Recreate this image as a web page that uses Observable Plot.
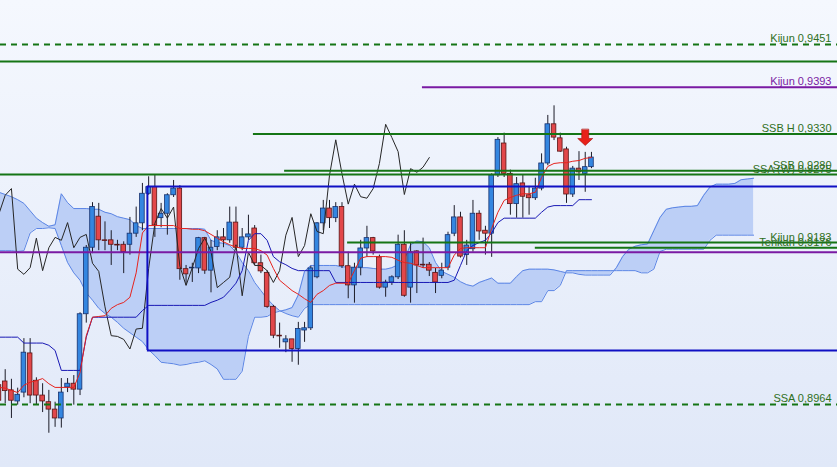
<!DOCTYPE html>
<html><head><meta charset="utf-8">
<script src="https://cdn.jsdelivr.net/npm/d3@7"></script>
<script src="https://cdn.jsdelivr.net/npm/@observablehq/plot@0.6"></script>
<style>html,body{margin:0;padding:0;background:#fff;} #chart svg{display:block}</style>
</head><body><div id="chart"></div>
<script>
// ---- candle data (index -1 .. 94) ----
const firstIndex = -1;
const opens = [
 0.8990,0.8995,0.8983,0.8968,0.8980,0.9033,0.8996,0.8976,0.8967,0.8957,
 0.8945,0.8987,0.8992,0.8984,0.9086,0.9176,0.9218,0.9186,0.9186,0.9180,
 0.9180,0.9180,0.9195,0.9209,0.9249,0.9258,0.9216,0.9222,0.9247,0.9256,
 0.9147,0.9148,0.9148,0.9189,0.9145,0.9177,0.9190,0.9186,0.9210,0.9176,
 0.9190,0.9202,0.9155,0.9142,0.9096,0.9057,0.9048,0.9052,0.9039,0.9064,
 0.9067,0.9136,0.9209,0.9229,0.9216,0.9231,0.9151,0.9125,0.9149,0.9175,
 0.9189,0.9163,0.9122,0.9129,0.9136,0.9180,0.9122,0.9171,0.9153,0.9153,
 0.9142,0.9138,0.9149,0.9195,0.9217,0.9166,0.9174,0.9222,0.9199,0.9195,
 0.9274,0.9317,0.9276,0.9235,0.9263,0.9247,0.9243,0.9256,0.9290,0.9343,
 0.9324,0.9309,0.9248,0.9283,0.9276,0.9285];
const closes = [
 0.8969,0.8982,0.8969,0.8977,0.9034,0.8976,0.8976,0.8968,0.8957,0.8945,
 0.8980,0.8992,0.8984,0.9086,0.9176,0.9231,0.9186,0.9185,0.9180,0.9179,
 0.9170,0.9195,0.9209,0.9249,0.9258,0.9206,0.9222,0.9247,0.9256,0.9147,
 0.9140,0.9149,0.9189,0.9145,0.9176,0.9190,0.9186,0.9210,0.9176,0.9190,
 0.9194,0.9155,0.9144,0.9096,0.9057,0.9056,0.9052,0.9039,0.9066,0.9067,
 0.9148,0.9209,0.9229,0.9216,0.9231,0.9151,0.9125,0.9149,0.9175,0.9189,
 0.9171,0.9122,0.9129,0.9136,0.9180,0.9111,0.9170,0.9152,0.9152,0.9145,
 0.9129,0.9145,0.9193,0.9217,0.9164,0.9179,0.9222,0.9198,0.9195,0.9274,
 0.9322,0.9276,0.9235,0.9262,0.9245,0.9243,0.9256,0.9290,0.9343,0.9325,
 0.9306,0.9248,0.9283,0.9278,0.9285,0.9298];
const highs = [
 0.9010,0.9011,0.8998,0.8986,0.9053,0.9053,0.9000,0.8992,0.8983,0.8967,
 0.8999,0.8999,0.9003,0.9088,0.9179,0.9237,0.9236,0.9211,0.9199,0.9186,
 0.9184,0.9217,0.9231,0.9263,0.9272,0.9274,0.9236,0.9249,0.9267,0.9260,
 0.9152,0.9155,0.9190,0.9190,0.9186,0.9199,0.9202,0.9231,0.9231,0.9202,
 0.9220,0.9206,0.9166,0.9145,0.9098,0.9074,0.9057,0.9052,0.9075,0.9075,
 0.9151,0.9210,0.9240,0.9240,0.9237,0.9237,0.9170,0.9155,0.9186,0.9205,
 0.9190,0.9166,0.9132,0.9138,0.9193,0.9199,0.9182,0.9172,0.9189,0.9156,
 0.9148,0.9155,0.9197,0.9233,0.9224,0.9186,0.9240,0.9226,0.9205,0.9276,
 0.9325,0.9331,0.9281,0.9271,0.9274,0.9259,0.9270,0.9303,0.9355,0.9368,
 0.9331,0.9312,0.9286,0.9306,0.9305,0.9305];
const lows = [
 0.8956,0.8965,0.8945,0.8963,0.8973,0.8965,0.8963,0.8953,0.8925,0.8933,
 0.8932,0.8980,0.8963,0.8976,0.9074,0.9168,0.9172,0.9172,0.9152,0.9172,
 0.9141,0.9166,0.9190,0.9199,0.9247,0.9190,0.9203,0.9193,0.9244,0.9132,
 0.9125,0.9129,0.9141,0.9140,0.9115,0.9172,0.9176,0.9182,0.9172,0.9172,
 0.9186,0.9152,0.9141,0.9094,0.9053,0.9040,0.9034,0.9021,0.9017,0.9048,
 0.9064,0.9134,0.9199,0.9202,0.9210,0.9148,0.9107,0.9101,0.9138,0.9163,
 0.9166,0.9120,0.9109,0.9125,0.9133,0.9109,0.9101,0.9114,0.9148,0.9137,
 0.9114,0.9134,0.9145,0.9191,0.9162,0.9152,0.9170,0.9186,0.9166,0.9163,
 0.9271,0.9271,0.9220,0.9216,0.9216,0.9220,0.9240,0.9253,0.9287,0.9321,
 0.9305,0.9236,0.9244,0.9267,0.9251,0.9283];
// ---- Ichimoku lines ----
const tenkan = [
 0.8987,0.8986,0.8983,0.8980,0.8990,0.8994,0.8996,0.8999,0.8992,0.8987,
 0.8987,0.8987,0.8987,0.9007,0.9057,0.9082,0.9083,0.9084,0.9094,0.9099,
 0.9102,0.9109,0.9142,0.9196,0.9206,0.9206,0.9206,0.9206,0.9206,0.9202,
 0.9202,0.9201,0.9201,0.9199,0.9194,0.9189,0.9184,0.9180,0.9177,0.9175,
 0.9175,0.9175,0.9172,0.9166,0.9148,0.9132,0.9125,0.9118,0.9113,0.9107,
 0.9102,0.9113,0.9118,0.9125,0.9128,0.9128,0.9128,0.9145,0.9162,0.9164,
 0.9164,0.9164,0.9164,0.9163,0.9159,0.9156,0.9155,0.9152,0.9149,0.9149,
 0.9149,0.9149,0.9149,0.9166,0.9175,0.9176,0.9176,0.9176,0.9176,0.9202,
 0.9224,0.9240,0.9244,0.9247,0.9249,0.9249,0.9251,0.9271,0.9286,0.9290,
 0.9291,0.9291,0.9293,0.9294,0.9297,0.9298];
const kijun = [
 0.9055,0.9055,0.9055,0.9055,0.9047,0.9047,0.9047,0.9047,0.9044,0.9037,
 0.9010,0.9010,0.9010,0.9010,0.9055,0.9082,0.9082,0.9082,0.9082,0.9082,
 0.9082,0.9082,0.9082,0.9091,0.9098,0.9098,0.9098,0.9098,0.9098,0.9098,
 0.9098,0.9098,0.9098,0.9098,0.9102,0.9105,0.9109,0.9118,0.9128,0.9145,
 0.9186,0.9195,0.9195,0.9186,0.9164,0.9157,0.9153,0.9148,0.9145,0.9145,
 0.9145,0.9145,0.9145,0.9145,0.9129,0.9129,0.9129,0.9129,0.9129,0.9129,
 0.9129,0.9129,0.9129,0.9129,0.9129,0.9129,0.9129,0.9129,0.9129,0.9129,
 0.9129,0.9129,0.9129,0.9132,0.9152,0.9172,0.9179,0.9183,0.9186,0.9196,
 0.9210,0.9216,0.9216,0.9216,0.9216,0.9216,0.9216,0.9224,0.9231,0.9233,
 0.9233,0.9233,0.9233,0.9241,0.9241,0.9241];
// cloud (index -1 .. 120)
const ssa = [
 0.9172,0.9172,0.9172,0.9171,0.9172,0.9196,0.9202,0.9202,0.9203,0.9202,
 0.9179,0.9156,0.9142,0.9132,0.9115,0.9105,0.9094,0.9087,0.9082,0.9075,
 0.9067,0.9061,0.9055,0.9049,0.9038,0.9030,0.9021,0.9020,0.9019,0.9017,
 0.9018,0.9020,0.9021,0.9023,0.9018,0.9012,0.8998,0.8998,0.8998,0.9009,
 0.9056,0.9082,0.9082,0.9083,0.9088,0.9090,0.9092,0.9095,0.9112,0.9144,
 0.9152,0.9152,0.9152,0.9152,0.9152,0.9150,0.9150,0.9149,0.9149,0.9149,
 0.9148,0.9147,0.9147,0.9149,0.9153,0.9160,0.9180,0.9185,0.9184,0.9176,
 0.9156,0.9144,0.9140,0.9136,0.9130,0.9126,0.9124,0.9129,0.9132,0.9135,
 0.9128,0.9128,0.9128,0.9137,0.9145,0.9147,0.9147,0.9147,0.9147,0.9146,
 0.9144,0.9142,0.9142,0.9140,0.9139,0.9139,0.9139,0.9139,0.9139,0.9149,
 0.9164,0.9174,0.9178,0.9180,0.9181,0.9199,0.9217,0.9228,0.9230,0.9231,
 0.9232,0.9232,0.9233,0.9247,0.9258,0.9262,0.9262,0.9262,0.9263,0.9268,
 0.9269,0.9270];
const ssb = [
 0.9251,0.9248,0.9245,0.9241,0.9236,0.9226,0.9216,0.9210,0.9205,0.9207,
 0.9249,0.9237,0.9229,0.9229,0.9229,0.9228,0.9228,0.9224,0.9222,0.9218,
 0.9216,0.9214,0.9206,0.9202,0.9202,0.9202,0.9202,0.9202,0.9202,0.9202,
 0.9202,0.9202,0.9202,0.9201,0.9186,0.9183,0.9182,0.9179,0.9170,0.9156,
 0.9145,0.9129,0.9118,0.9107,0.9098,0.9091,0.9087,0.9084,0.9082,0.9094,
 0.9099,0.9099,0.9099,0.9099,0.9099,0.9099,0.9099,0.9099,0.9099,0.9099,
 0.9099,0.9099,0.9099,0.9099,0.9099,0.9099,0.9099,0.9099,0.9099,0.9099,
 0.9099,0.9099,0.9099,0.9099,0.9099,0.9099,0.9099,0.9099,0.9099,0.9099,
 0.9099,0.9099,0.9099,0.9099,0.9099,0.9099,0.9103,0.9103,0.9118,0.9118,
 0.9125,0.9145,0.9145,0.9145,0.9145,0.9145,0.9145,0.9145,0.9145,0.9145,
 0.9145,0.9145,0.9145,0.9142,0.9142,0.9147,0.9171,0.9174,0.9174,0.9174,
 0.9174,0.9174,0.9174,0.9174,0.9186,0.9193,0.9193,0.9193,0.9193,0.9193,
 0.9193,0.9193];
const chikouShift = 26;
// ---- horizontal levels ----
const levelLabels = ["Kijun 0,9451", "", "Kijun 0,9393", "SSB H 0,9330", "SSB 0,9280", "SSA (W) 0,9275", "Kijun 0,9183", "Tenkan 0,9176", "", "SSA 0,8964"];
const levelValues = [0.9451, 0.9428, 0.9393, 0.9330, 0.9280, 0.9275, 0.9183, 0.9176, 0.9170, 0.8964];
const levelStart  = [null, null, 66.9, 39.8, 44.8, null, 54.9, 85.0, null, null];
const levelKind   = ["green-dash", "green", "purple", "green", "green", "green", "green", "green", "purple", "green-dash"];
// box (zone) anchored at a candle
const boxStart = 22.8, boxTop = 0.9259, boxBottom = 0.9037;
// signal arrow
const arrowIndex = [93], arrowPrice = [0.9336];

// ---- build ----
const candles = opens.map((o, k) => ({i: firstIndex + k, open: o, close: closes[k], high: highs[k], low: lows[k], tenkan: tenkan[k], kijun: kijun[k]}));
const cloud = ssa.map((a, k) => ({i: firstIndex + k, ssa: a, ssb: ssb[k]}));
const chikou = candles.slice(chikouShift).map(d => ({i: d.i - chikouShift, v: d.close}));
const xDomain = [-0.7536, 133.45];
const yDomain = [0.887865, 0.95105];
const levels = levelValues.map((v, k) => ({value: v, label: levelLabels[k], start: levelStart[k] ?? xDomain[0], kind: levelKind[k]}));
const colorOf = {"green": "#157515", "green-dash": "#157515", "purple": "#7a1aa3"};
const labelColorOf = {"green": "#2f6f22", "green-dash": "#2f6f22", "purple": "#7a1aa3"};
const boxes = [{start: boxStart, top: boxTop, bottom: boxBottom}];
const arrows = arrowIndex.map((i, k) => ({i, price: arrowPrice[k]}));
const arrowShape = {
  draw(context, l) {
    const w = 3.5, hw = 7.5, hl = 7;
    context.moveTo(-w, 0); context.lineTo(-w, -(l - hl)); context.lineTo(-hw, -(l - hl));
    context.lineTo(0, -l); context.lineTo(hw, -(l - hl)); context.lineTo(w, -(l - hl));
    context.lineTo(w, 0); context.closePath();
  }
};
const up = d => d.close >= d.open;
const half = 0.37;

const chart = Plot.plot({
  width: 837, height: 467,
  margin: 0,
  x: {domain: xDomain, axis: null},
  y: {domain: yDomain, axis: null},
  style: {background: "linear-gradient(#f5f8fe, #e0e8f8)", fontFamily: "'Liberation Sans', Arial, sans-serif"},
  marks: [
    Plot.areaY(cloud, {x: "i", y1: "ssa", y2: "ssb", fill: "#bccff6"}),
    Plot.lineY(cloud, {x: "i", y: "ssa", stroke: "#5b85e5", strokeWidth: 1}),
    Plot.lineY(cloud, {x: "i", y: "ssb", stroke: "#5b85e5", strokeWidth: 1}),
    Plot.ruleX(candles, {x: "i", y1: "low", y2: "high", stroke: "#1c1c28", strokeWidth: 1}),
    Plot.rect(candles, {x1: d => d.i - half, x2: d => d.i + half, y1: "open", y2: "close",
      fill: d => up(d) ? "#3486e0" : "#e2474a", stroke: d => up(d) ? "#16306e" : "#5a1414", strokeWidth: 0.8}),
    Plot.line(chikou, {x: "i", y: "v", stroke: "#262626", strokeWidth: 1}),
    Plot.line(candles, {x: "i", y: "kijun", stroke: "#1818b4", strokeWidth: 1}),
    Plot.line(candles, {x: "i", y: "tenkan", stroke: "#e6231e", strokeWidth: 1}),
    Plot.ruleY(levels.filter(d => !d.kind.endsWith("dash")), {y: "value", x1: "start", x2: xDomain[1], stroke: d => colorOf[d.kind], strokeWidth: 2}),
    Plot.ruleY(levels.filter(d => d.kind.endsWith("dash")), {y: "value", x1: "start", x2: xDomain[1], stroke: d => colorOf[d.kind], strokeWidth: 2, strokeDasharray: "6,5"}),
    Plot.ruleY(boxes, {y: "top", x1: "start", x2: xDomain[1], stroke: "#1010c4", strokeWidth: 2}),
    Plot.ruleY(boxes, {y: "bottom", x1: "start", x2: xDomain[1], stroke: "#1010c4", strokeWidth: 2}),
    Plot.ruleX(boxes, {x: "start", y1: "bottom", y2: "top", stroke: "#1010c4", strokeWidth: 2}),
    Plot.text(levels.filter(d => d.label), {x: () => xDomain[1], y: "value", text: "label", textAnchor: "end", lineAnchor: "bottom", dx: -6, dy: -2, fill: d => labelColorOf[d.kind], fontSize: 11}),
    Plot.vector(arrows, {x: "i", y: "price", length: 16, rotate: 180, anchor: "start", shape: arrowShape, fill: "#e8211a", stroke: "#a50e0a", strokeWidth: 0.6})
  ]
});
document.getElementById("chart").append(chart);
</script></body></html>
